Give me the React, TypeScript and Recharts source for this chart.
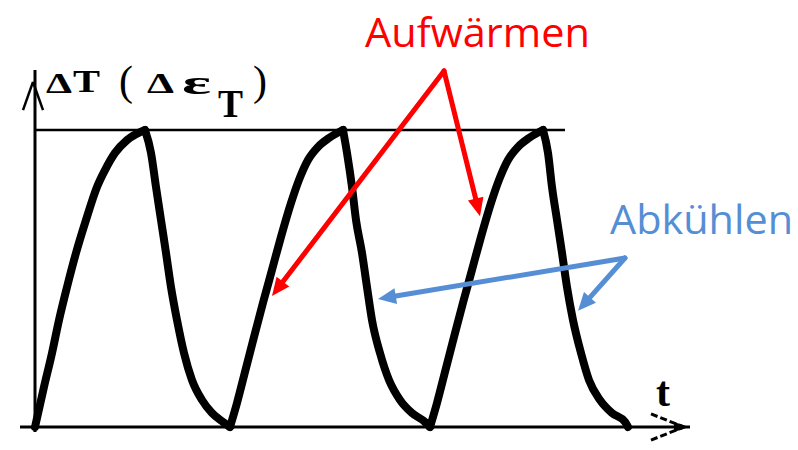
import React from 'react';
import { ComposedChart, Line, XAxis, YAxis, ReferenceLine, ReferenceDot } from 'recharts';

// Thermal cycling: time (arbitrary units) and temperature swing ΔT in % of the cycle amplitude.
const time = [
  0, 0.9, 1.7, 2.4, 3.2, 4.1, 5.1, 6.2, 7.0, 8.0, 9.2, 11.0,
  11.6, 12.1, 12.6, 13.1, 13.6, 14.2, 14.9, 15.7, 16.7, 17.7, 18.8, 19.5,
  20.2, 21.05, 21.9, 22.8, 23.7, 24.6, 25.6, 26.4, 27.3, 28.3, 29.4, 30.8,
  31.2, 31.7, 32.1, 32.7, 33.2, 33.7, 34.5, 35.4, 36.5, 37.7, 39.0, 39.5,
  40.2, 41.05, 41.9, 42.8, 43.7, 44.6, 45.6, 46.4, 47.3, 48.3, 49.4, 50.8,
  51.3, 51.7, 52.2, 52.7, 53.2, 53.8, 54.6, 55.4, 56.5, 57.7, 59.0, 59.3,
];
const deltaT = [
  0, 13.5, 24.9, 36.0, 47.1, 58.6, 69.7, 80.8, 86.5, 92.3, 96.6, 100,
  92.3, 80.8, 69.7, 58.6, 47.1, 36.0, 24.9, 15.8, 9.1, 4.7, 1.7, 0,
  8.1, 19.2, 30.3, 41.8, 52.9, 64.0, 75.4, 83.2, 89.9, 94.3, 97.3, 100,
  92.3, 80.8, 69.7, 58.6, 47.1, 36.0, 24.9, 15.8, 9.1, 4.7, 1.7, 0,
  8.1, 19.2, 30.3, 41.8, 52.9, 64.0, 75.4, 83.2, 89.9, 94.3, 97.3, 100,
  92.3, 80.8, 69.7, 58.6, 47.1, 36.0, 24.9, 15.8, 9.1, 4.7, 1.7, 0,
];
const peakLevel = 100;

// Annotation texts
const warmLabel = 'Aufwärmen';
const coolLabel = 'Abkühlen';
const timeLabel = 't';

// Split every cycle into its heating and cooling branch so peaks and valleys stay sharp.
const data = time.map((t, i) => {
  const v = deltaT[i];
  const prev = i > 0 ? deltaT[i - 1] : undefined;
  const next = i < deltaT.length - 1 ? deltaT[i + 1] : undefined;
  const rising = (prev !== undefined && v > prev) || (next !== undefined && next > v);
  const falling = (prev !== undefined && v < prev) || (next !== undefined && next < v);
  return { t, heat: rising ? v : null, cool: falling ? v : null };
});

const W = 798;
const H = 450;
const xDomain: [number, number] = [-3.5, 76.3];
const yDomain: [number, number] = [-23 / 2.97, 427 / 2.97];

const RED = '#FF0000';
const BLUE = '#558ED5';
const SERIF = '"Liberation Serif", "DejaVu Serif", serif';
const SANS = '"Open Sans", "Noto Sans", sans-serif';

// Straight shaft with a filled triangular head at the segment's end point
const arrowShape = (color: string, width = 5, head = 18, half = 8) => (p: any) => {
  const { x1, y1, x2, y2 } = p;
  const dx = x2 - x1;
  const dy = y2 - y1;
  const len = Math.hypot(dx, dy) || 1;
  const ux = dx / len;
  const uy = dy / len;
  const bx = x2 - ux * head;
  const by = y2 - uy * head;
  const pts = `${x2},${y2} ${bx - uy * half},${by + ux * half} ${bx + uy * half},${by - ux * half}`;
  return (
    <g>
      <line x1={x1} y1={y1} x2={bx + ux * 3} y2={by + uy * 3} stroke={color} strokeWidth={width} strokeLinecap="round" />
      <polygon points={pts} fill={color} />
    </g>
  );
};

const plainLine = (width: number, dash?: string) => (p: any) => (
  <line x1={p.x1} y1={p.y1} x2={p.x2} y2={p.y2} stroke="#000" strokeWidth={width} strokeDasharray={dash} />
);

const headOnly = (p: any) => {
  const { x1, y1, x2, y2 } = p;
  const half = 5;
  return <polygon points={`${x2},${y2} ${x1},${y1 - half} ${x1},${y1 + half}`} fill="#000" />;
};

const textShape = (content: string, style: React.SVGProps<SVGTextElement>) => (p: any) => (
  <text x={p.cx} y={p.cy} {...style}>{content}</text>
);

// Y-axis quantity: ΔT (Δε_T), drawn glyph by glyph relative to the axis origin
const yTitleShape = (p: any) => {
  const x = p.cx;
  const y = p.cy;
  const common = { fontFamily: SERIF, fontWeight: 700, fill: '#000' } as const;
  return (
    <g>
      <text x={x + 11} y={y} fontSize={29} textLength={26} lengthAdjust="spacingAndGlyphs" {...common}>Δ</text>
      <text x={x + 38} y={y - 1} fontSize={32} textLength={27} lengthAdjust="spacingAndGlyphs" {...common}>T</text>
      <text x={x + 91} y={y + 2} fontSize={42} textAnchor="middle" fontWeight={400} fontFamily={SERIF}>(</text>
      <text x={x + 112} y={y} fontSize={29} textLength={27} lengthAdjust="spacingAndGlyphs" {...common}>Δ</text>
      <text x={x + 147} y={y + 1} fontSize={34} textLength={29} lengthAdjust="spacingAndGlyphs" {...common}>ε</text>
      <text x={x + 183} y={y + 24} fontSize={40} textLength={25} lengthAdjust="spacingAndGlyphs" {...common}>T</text>
      <text x={x + 225} y={y + 2} fontSize={42} textAnchor="middle" fontWeight={400} fontFamily={SERIF}>)</text>
    </g>
  );
};

export default function App() {
  return (
    <div style={{ position: 'absolute', left: 0, top: 0, width: W, height: H, background: '#fff' }}>
      <ComposedChart width={W} height={H} data={data} margin={{ top: 0, right: 0, bottom: 0, left: 0 }}>
        <XAxis dataKey="t" type="number" domain={xDomain} allowDataOverflow hide />
        <YAxis type="number" domain={yDomain} allowDataOverflow hide />

        {/* axes and the peak level */}
        <ReferenceLine segment={[{ x: 0, y: -1.7 }, { x: 0, y: 120.2 }]} shape={plainLine(3)} />
        <ReferenceLine segment={[{ x: -1.5, y: 0 }, { x: 65.5, y: 0 }]} shape={plainLine(3)} />
        <ReferenceLine segment={[{ x: 0, y: peakLevel }, { x: 53, y: peakLevel }]} shape={plainLine(2.5)} />

        {/* y-axis arrow tip */}
        <ReferenceLine segment={[{ x: -1.2, y: 106.7 }, { x: -0.2, y: 116.2 }]} shape={plainLine(2.5)} />
        <ReferenceLine segment={[{ x: -0.2, y: 116.2 }, { x: 0.8, y: 106.7 }]} shape={plainLine(2.5)} />

        {/* t-axis arrow tip */}
        <ReferenceLine segment={[{ x: 61.6, y: 4.4 }, { x: 64.9, y: 0 }]} shape={plainLine(3, '7 3')} />
        <ReferenceLine segment={[{ x: 61.6, y: -4.4 }, { x: 64.9, y: 0 }]} shape={plainLine(3, '7 3')} />
        <ReferenceLine segment={[{ x: 63.9, y: 0 }, { x: 65.4, y: 0 }]} shape={headOnly} />

        <Line
          type="monotone"
          dataKey="heat"
          stroke="#000"
          strokeWidth={8}
          strokeLinecap="round"
          dot={false}
          activeDot={false}
          connectNulls={false}
          isAnimationActive={false}
        />
        <Line
          type="monotone"
          dataKey="cool"
          stroke="#000"
          strokeWidth={8}
          strokeLinecap="round"
          dot={false}
          activeDot={false}
          connectNulls={false}
          isAnimationActive={false}
        />

        {/* warming arrows */}
        <ReferenceLine segment={[{ x: 40.9, y: 119.9 }, { x: 23.7, y: 44.1 }]} shape={arrowShape(RED)} />
        <ReferenceLine segment={[{ x: 40.9, y: 119.9 }, { x: 44.5, y: 71.0 }]} shape={arrowShape(RED)} />

        {/* cooling arrows */}
        <ReferenceLine segment={[{ x: 59.0, y: 56.9 }, { x: 34.3, y: 43.1 }]} shape={arrowShape(BLUE)} />
        <ReferenceLine segment={[{ x: 59.0, y: 56.9 }, { x: 54.3, y: 39.1 }]} shape={arrowShape(BLUE)} />

        <ReferenceDot x={0} y={112.5} r={0} shape={yTitleShape} />
        <ReferenceDot
          x={62.8}
          y={7.1}
          r={0}
          shape={textShape(timeLabel, { fontFamily: SERIF, fontWeight: 700, fontSize: 42, textAnchor: 'middle', fill: '#000' })}
        />
        <ReferenceDot
          x={33.0}
          y={127.9}
          r={0}
          shape={textShape(warmLabel, { fontFamily: SANS, fontSize: 41, fill: RED, textLength: 225, lengthAdjust: 'spacingAndGlyphs' })}
        />
        <ReferenceDot
          x={57.5}
          y={65.0}
          r={0}
          shape={textShape(coolLabel, { fontFamily: SANS, fontSize: 41, fill: BLUE, textLength: 183, lengthAdjust: 'spacingAndGlyphs' })}
        />
      </ComposedChart>
    </div>
  );
}
